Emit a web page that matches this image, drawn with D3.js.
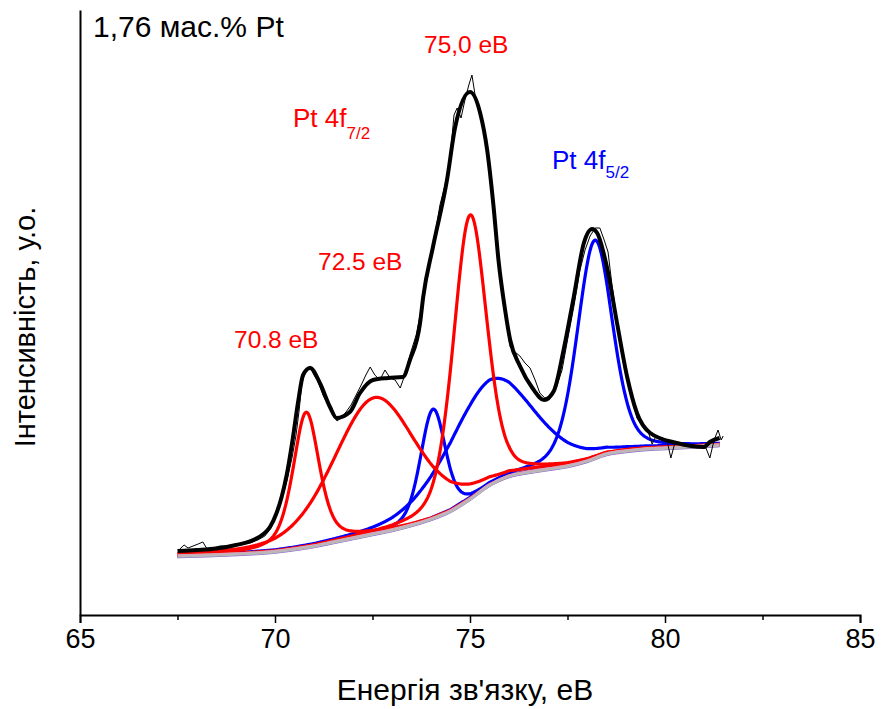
<!DOCTYPE html>
<html>
<head>
<meta charset="utf-8">
<script src="https://cdn.jsdelivr.net/npm/d3@7"></script>
<style>
  html, body { margin: 0; padding: 0; background: #fff; }
  svg { display: block; font-family: "Liberation Sans", Arial, sans-serif; }
</style>
</head>
<body>
<svg id="chart" width="881" height="709"></svg>
<script>
// ---------------- DATA ----------------
// Binding energy (eV) ticks
const xTicksMajor = [65, 70, 75, 80, 85];
const xTicksMinor = [67.5, 72.5, 77.5, 82.5];

// Raw spectrum (thin line): energy and intensity (a.u.)
const rawE = [67.56,67.67,67.77,67.90,68.03,68.15,68.26,68.41,68.59,68.85,69.10,69.36,69.56,69.74,69.90,70.03,70.18,70.31,70.44,70.54,70.62,70.69,70.79,70.90,71.00,71.10,71.23,71.36,71.49,71.59,71.69,71.82,71.95,72.08,72.21,72.33,72.44,72.56,72.69,72.82,72.95,73.08,73.21,73.33,73.46,73.62,73.77,73.92,74.08,74.23,74.36,74.49,74.59,74.67,74.77,74.87,74.97,75.05,75.13,75.23,75.33,75.44,75.54,75.64,75.77,75.90,76.03,76.15,76.28,76.41,76.54,76.67,76.79,76.92,77.05,77.21,77.36,77.51,77.67,77.82,77.95,78.08,78.21,78.33,78.44,78.54,78.64,78.77,78.90,79.03,79.15,79.28,79.41,79.54,79.67,79.77,79.90,80.05,80.15,80.26,80.38,80.59,80.77,80.95,81.05,81.15,81.26,81.36,81.44,81.49];
const rawI = [66,70,67,69,71,73,66,67,69,69,71,72,75,79,87,100,117,135,158,180,205,232,245,249,240,234,220,210,201,194,197,203,210,220,230,240,248,240,235,245,237,235,227,240,260,280,310,340,375,410,430,457,500,507,497,515,530,540,520,507,487,463,430,390,340,300,268,263,259,252,247,235,222,217,219,227,245,277,310,345,365,379,387,387,375,363,330,295,265,235,220,197,190,187,171,179,175,175,157,173,172,169,169,167,167,157,175,185,175,179];

// Fit envelope (thick black line)
const envE = [67.5,68.0,68.5,69.0,69.44,69.87,70.04,70.17,70.3,70.45,70.6,70.72,70.9,71.15,71.41,71.58,71.92,72.18,72.51,72.9,73.28,73.46,73.72,73.8,74.05,74.41,74.62,75.0,75.26,75.44,75.6,75.73,75.9,76.03,76.28,76.6,76.9,77.15,77.4,77.66,77.92,78.13,78.26,78.51,78.77,79.03,79.28,79.62,80.3,81.0,81.15,81.4];
const envI = [64,65,66.5,70,75,88,102,118,140,175,215,240,247,232,208,197,203,222,235,237,238,255,292,318,368,435,488,523,502,465,410,355,305,275,249,227,215,224,265,318,372,386,382,348,292,238,202,182,172,168,173,177];

// Shirley background
const bgE = [67.5,69.0,70.0,70.5,71.0,71.5,72.0,72.5,73.0,73.5,74.0,74.5,75.0,75.5,76.0,76.5,77.0,77.5,78.0,78.5,79.0,79.5,80.0,80.5,81.0,81.4];
const bgI = [59,61,63.5,66,69,73,77,81,85,90,96,104,116,130,139,143,146,149,154,161,164,166,167,168,169,170];

// Fitted components: Pt 4f7/2 (red) and Pt 4f5/2 (blue)
const redCenters  = [70.8, 72.55, 75.0];
const redHeights  = [135, 136, 284];
const redFwhm     = [0.8, 2.5, 1.0];
const redMix      = [0.5, 0.3, 0.3];
const blueCenters = [74.05, 75.5, 78.2];
const blueHeights = [109, 105, 218];
const blueFwhm    = [0.75, 2.6, 1.07];
const blueMix     = [0.3, 0.3, 0.3];
const fitRange = [67.5, 81.4];

// ---------------- CHART ----------------
const svg = d3.select("#chart");
const x = d3.scaleLinear().domain([65, 85]).range([80, 860]);
const y = d3.scaleLinear().domain([0, 605]).range([615, 10]);
const bgAt = d3.scaleLinear().domain(bgE).range(bgI).clamp(true);

function pv(E, c, h, w, eta) {
  const t = (E - c) / w;
  return h * ((1 - eta) * Math.exp(-4 * Math.LN2 * t * t) + eta / (1 + 4 * t * t));
}
const grid = d3.range(fitRange[0], fitRange[1] + 1e-9, 0.02);

const line = d3.line().x(d => x(d[0])).y(d => y(d[1]));
const smooth = d3.line().x(d => x(d[0])).y(d => y(d[1])).curve(d3.curveMonotoneX);

function drawComp(c, h, w, eta, color) {
  const pts = grid.map(E => [E, bgAt(E) + pv(E, c, h, w, eta)]);
  svg.append("path").attr("d", line(pts)).attr("fill", "none")
    .attr("stroke", color).attr("stroke-width", 3.2).attr("stroke-linejoin", "round");
}

// blue components, then red
blueCenters.forEach((c, i) => drawComp(c, blueHeights[i], blueFwhm[i], blueMix[i], "#0000ff"));
redCenters.forEach((c, i) => drawComp(c, redHeights[i], redFwhm[i], redMix[i], "#ff0000"));

// background lines (drawn over component baselines)
const bgPts = bgE.map((e, i) => [e, bgI[i]]);
svg.append("path").attr("d", smooth(bgPts)).attr("fill", "none")
  .attr("stroke", "#8c62d0").attr("stroke-width", 1).attr("transform", "translate(0,1.8)");
svg.append("path").attr("d", smooth(bgPts)).attr("fill", "none")
  .attr("stroke", "#b8b8b8").attr("stroke-width", 3.4);
svg.append("path").attr("d", smooth(bgPts)).attr("fill", "none")
  .attr("stroke", "#e0a0c0").attr("stroke-width", 0.8).attr("transform", "translate(0,-1)");

// raw data
svg.append("path").attr("d", line(rawE.map((e, i) => [e, rawI[i]]))).attr("fill", "none")
  .attr("stroke", "#000").attr("stroke-width", 1);

// envelope
svg.append("path").attr("d", smooth(envE.map((e, i) => [e, envI[i]]))).attr("fill", "none")
  .attr("stroke", "#000").attr("stroke-width", 4).attr("stroke-linejoin", "round");

// axes
const xAxis = d3.axisBottom(x).tickValues(xTicksMajor).tickSize(8).tickPadding(6).tickFormat(d3.format("d"));
const gx = svg.append("g").attr("transform", "translate(0,615)").call(xAxis);
gx.select(".domain").attr("stroke-width", 2);
gx.selectAll(".tick line").attr("stroke-width", 1.5);
gx.selectAll(".tick text").attr("font-size", 27).attr("font-family", "Liberation Sans, Arial, sans-serif").attr("dy", "0.72em");
const xMinor = d3.axisBottom(x).tickValues(xTicksMinor).tickSize(5).tickFormat("");
const gxm = svg.append("g").attr("transform", "translate(0,615)").call(xMinor);
gxm.select(".domain").remove();
gxm.selectAll(".tick line").attr("stroke-width", 1.5);

const yAxis = d3.axisLeft(y).tickValues([]).tickSizeOuter(0);
const gy = svg.append("g").attr("transform", "translate(80,0)").call(yAxis);
gy.select(".domain").attr("stroke-width", 2);

// axis titles
svg.append("text").attr("x", 465).attr("y", 700).attr("text-anchor", "middle")
  .attr("font-size", 30).text("Енергія зв'язку, еВ");
svg.append("text").attr("transform", "translate(35,327) rotate(-90)").attr("text-anchor", "middle")
  .attr("font-size", 29).text("Інтенсивність, у.о.");

// title
svg.append("text").attr("x", 93).attr("y", 37).attr("font-size", 30).text("1,76 мас.% Pt");

// annotations
const red = "#ff0000", blue = "#0000ff";
svg.append("text").attr("x", 424).attr("y", 53).attr("font-size", 24.5).attr("fill", red).text("75,0 еВ");
svg.append("text").attr("x", 318).attr("y", 270).attr("font-size", 24.5).attr("fill", red).text("72.5 еВ");
svg.append("text").attr("x", 234).attr("y", 348).attr("font-size", 24.5).attr("fill", red).text("70.8 еВ");

const t1 = svg.append("text").attr("x", 293).attr("y", 127).attr("font-size", 26).attr("fill", red);
t1.append("tspan").text("Pt 4f");
t1.append("tspan").attr("font-size", 17).attr("dy", 12).text("7/2");

const t2 = svg.append("text").attr("x", 552).attr("y", 169).attr("font-size", 26).attr("fill", blue);
t2.append("tspan").text("Pt 4f");
t2.append("tspan").attr("font-size", 17).attr("dy", 9).text("5/2");
</script>
</body>
</html>
